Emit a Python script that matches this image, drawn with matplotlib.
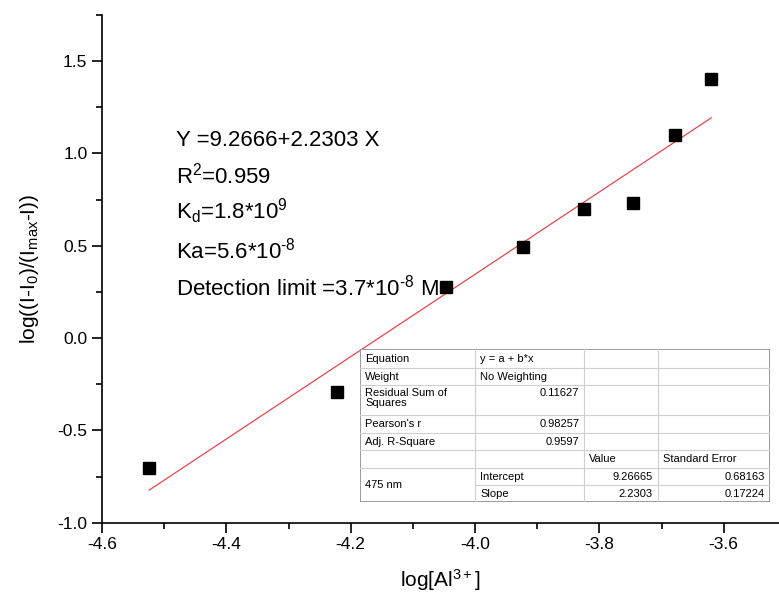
import numpy as np
import matplotlib
matplotlib.use('Agg')
import matplotlib.pyplot as plt
from matplotlib.ticker import MultipleLocator

plt.rcParams['font.family'] = ['Liberation Sans', 'DejaVu Sans']
plt.rcParams['mathtext.fontset'] = 'custom'
plt.rcParams['mathtext.rm'] = 'Liberation Sans'
plt.rcParams['mathtext.it'] = 'Liberation Sans:italic'
plt.rcParams['mathtext.default'] = 'regular'

## data
log_al = [-4.524, -4.222, -4.046, -3.923, -3.824, -3.746, -3.678, -3.620]
log_ratio = [-0.702, -0.294, 0.276, 0.493, 0.698, 0.731, 1.099, 1.402]
intercept = 9.2666
slope = 2.2303

notes = ['Y =9.2666+2.2303 X', 'R$^2$=0.959', 'K$_d$=1.8*10$^9$',
         'Ka=5.6*10$^{\u20108}$', 'Detection limit =3.7*10$^{\u20108}$ M']

# fit report table (Origin style)
tab_rows = [
    ['Equation', 'y = a + b*x', '', ''],
    ['Weight', 'No Weighting', '', ''],
    ['Residual Sum of\nSquares', '0.11627', '', ''],
    ["Pearson's r", '0.98257', '', ''],
    ['Adj. R-Square', '0.9597', '', ''],
    ['', '', 'Value', 'Standard Error'],
    ['475 nm', 'Intercept', '9.26665', '0.68163'],
    ['', 'Slope', '2.2303', '0.17224'],
]

W, H = 779, 605
fig = plt.figure(figsize=(W/100, H/100), dpi=100)
ax = fig.add_axes([102/W, 1 - 522.7/H, 1 - 102/W, (522.7 - 15)/H])

ax.plot(log_al, log_ratio, 's', color='black', ms=8, zorder=3)
xf = np.array([min(log_al), max(log_al)])
ax.plot(xf, intercept + slope*xf, color='#e3474d', lw=0.9, zorder=2)

ax.set_xlim(-4.6, -3.511)
ax.set_ylim(-1.0, 1.75)
ax.xaxis.set_major_locator(MultipleLocator(0.2))
ax.xaxis.set_minor_locator(MultipleLocator(0.1))
ax.yaxis.set_major_locator(MultipleLocator(0.5))
ax.yaxis.set_minor_locator(MultipleLocator(0.25))
ax.xaxis.set_major_formatter(plt.FuncFormatter(lambda v, p: '%.1f' % v))
ax.yaxis.set_major_formatter(plt.FuncFormatter(lambda v, p: '%.1f' % v))
for s in ['top', 'right']:
    ax.spines[s].set_visible(False)
for s in ['left', 'bottom']:
    ax.spines[s].set_linewidth(1.2)
ax.tick_params(which='major', direction='out', length=7.5, width=1.2, labelsize=12.5, pad=3)
ax.tick_params(which='minor', direction='out', length=4.5, width=1.2)
ax.set_xlabel('log[Al$^{3+}$]', fontsize=15, labelpad=11)
ax.set_ylabel('log((I-I$_0$)/(I$_{max}$-I))', fontsize=15, labelpad=12)

# annotations
note_y = [140, 176, 211, 251, 288]
for t, yy in zip(notes, note_y):
    fig.text(176/W, 1 - yy/H, t, fontsize=16, va='center', ha='left')

## table
tax = fig.add_axes([360/W, 1 - 502.3/H, 410/W, 153/H], zorder=5)
tax.set_xlim(0, 410)
tax.set_ylim(153, 0)
tax.axis('off')
tax.add_patch(plt.Rectangle((0, 0), 410, 153, facecolor='white', edgecolor='#8a8a8a', lw=1.2))
cols = [0, 115, 224.3, 297.7, 410]
rows = [0, 19, 35.7, 65.7, 84, 100.7, 119, 135.7, 153]
for c in cols[1:-1]:
    tax.plot([c, c], [0, 153], color='#cfcfcf', lw=0.8)
for i, r in enumerate(rows[1:-1], 1):
    x0 = cols[1] if i == 7 else 0
    tax.plot([x0, 410], [r, r], color='#cfcfcf', lw=0.8)

fs = 8
for i, row in enumerate(tab_rows):
    top = rows[i]
    bot = rows[i+1]
    for j, txt in enumerate(row):
        if not txt:
            continue
        if j == 0 and i == 6:
            yy = rows[8]/2 + rows[6]/2
            tax.text(cols[0] + 5, yy, txt, fontsize=fs, va='center', ha='left')
            continue
        if i == 2:
            yy = top + 2.5
            va = 'top'
        else:
            yy = (top + bot)/2
            va = 'center'
        numeric = txt[0].isdigit()
        if numeric:
            tax.text(cols[j+1] - 5, yy, txt, fontsize=fs, va=va, ha='right', linespacing=1.1)
        else:
            tax.text(cols[j] + 5, yy, txt, fontsize=fs, va=va, ha='left', linespacing=1.1)

fig.savefig('out.png', dpi=100)
